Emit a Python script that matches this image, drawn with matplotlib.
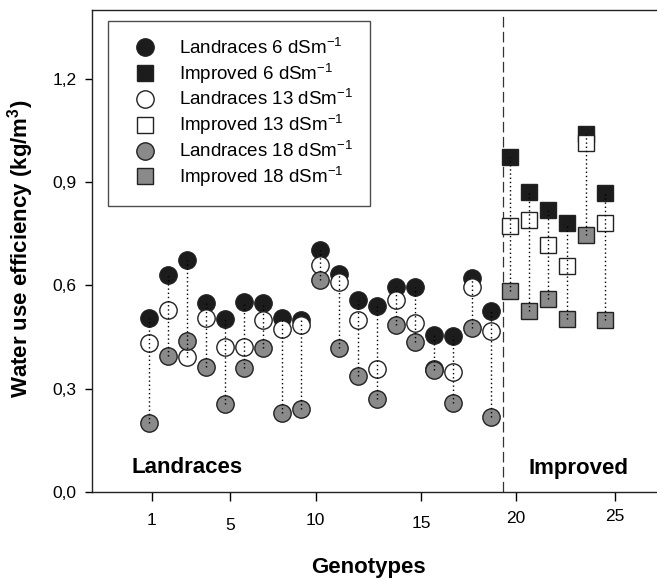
import matplotlib
matplotlib.use('Agg')
import matplotlib.pyplot as plt
import matplotlib.transforms as mtransforms
import numpy as np

plt.rcParams['font.family'] = ['Liberation Sans', 'DejaVu Sans']
plt.rcParams['mathtext.default'] = 'regular'

# Genotype numbers
landrace_geno = list(range(1, 20))
improved_geno = list(range(20, 26))

# Water use efficiency (kg/m3) per salinity level
landraces_6 = [0.505, 0.630, 0.674, 0.549, 0.501, 0.551, 0.548, 0.505, 0.498, 0.703,
               0.633, 0.556, 0.541, 0.596, 0.596, 0.457, 0.454, 0.622, 0.525]
landraces_13 = [0.433, 0.527, 0.391, 0.505, 0.420, 0.420, 0.500, 0.472, 0.486, 0.660,
                0.611, 0.500, 0.357, 0.556, 0.490, 0.358, 0.348, 0.595, 0.467]
landraces_18 = [0.200, 0.394, 0.438, 0.362, 0.256, 0.361, 0.417, 0.229, 0.241, 0.616,
                0.417, 0.338, 0.271, 0.486, 0.435, 0.355, 0.258, 0.476, 0.217]
improved_6 = [0.973, 0.872, 0.819, 0.780, 1.039, 0.868]
improved_13 = [0.773, 0.791, 0.718, 0.655, 1.012, 0.780]
improved_18 = [0.583, 0.525, 0.559, 0.501, 0.747, 0.500]

# Axis ticks as printed on the original figure
xtick_pos = [1.13, 5.25, 9.76, 15.3, 20.3, 25.5]
xtick_labels = ['1', '5', '10', '15', '20', '25']
xtick_top_px = [513, 518, 513, 516, 511, 509]   # staggered label heights (pixels from top)
yticks = [0.0, 0.3, 0.6, 0.9, 1.2]
ytick_labels = ['0,0', '0,3', '0,6', '0,9', '1,2']
group_split = 19.59

fig = plt.figure(figsize=(6.57, 5.79), dpi=100)
ax = fig.add_axes([0.1396, 0.1503, 0.8604, 0.8329])

black = '#1c1c1c'
gray = '#8a8a8a'
edge = '#222222'
circle_ms = 12.5
square_ms = 11
mew = 1.0

# dotted connectors from highest to lowest value of each genotype
lr = np.array([landraces_6, landraces_13, landraces_18])
im = np.array([improved_6, improved_13, improved_18])
ax.vlines(landrace_geno, lr.min(axis=0), lr.max(axis=0), colors='black',
          linestyles=(0, (1, 2)), linewidth=1.0, zorder=6)
ax.vlines(improved_geno, im.min(axis=0), im.max(axis=0), colors='black',
          linestyles=(0, (1, 2)), linewidth=1.0, zorder=6)

def pts(x, y, marker, fc, label, z):
    ms = circle_ms if marker == 'o' else square_ms
    h, = ax.plot(x, y, ls='none', marker=marker, ms=ms, mfc=fc, mec=edge,
                 mew=mew, label=label, zorder=z)
    return h

unit = ' dSm$^{-1}$'
h_l6 = pts(landrace_geno, landraces_6, 'o', black, 'Landraces 6' + unit, 3)
h_i6 = pts(improved_geno, improved_6, 's', black, 'Improved 6' + unit, 3)
h_l13 = pts(landrace_geno, landraces_13, 'o', 'white', 'Landraces 13' + unit, 4)
h_i13 = pts(improved_geno, improved_13, 's', 'white', 'Improved 13' + unit, 4)
h_l18 = pts(landrace_geno, landraces_18, 'o', gray, 'Landraces 18' + unit, 5)
h_i18 = pts(improved_geno, improved_18, 's', gray, 'Improved 18' + unit, 5)

# separator between groups
ax.plot([group_split, group_split], [0, 1.39], color='#333333', lw=0.9,
        dashes=(8.5, 3.5), zorder=2)

ax.text(0.04, 0.056, 'Landraces', fontsize=16, fontweight='bold')
ax.text(20.98, 0.053, 'Improved', fontsize=16, fontweight='bold')

ax.set_xlim(-2.03, 27.72)
ax.set_ylim(0, 1.4)

ax.set_xticks(xtick_pos)
ax.tick_params(axis='x', direction='out', length=6.5, width=1, labelbottom=False)
# x tick labels drawn as text so they can sit at staggered heights
xtrans = mtransforms.blended_transform_factory(ax.transData, fig.transFigure)
for pos, lab, top in zip(xtick_pos, xtick_labels, xtick_top_px):
    ax.text(pos, 1 - top / 579, lab, transform=xtrans, ha='center', va='top',
            fontsize=12.5)

ax.set_yticks(yticks)
ax.set_yticklabels(ytick_labels, fontsize=12.5)
ax.tick_params(axis='y', direction='out', length=5, width=1, pad=6)

ax.spines['right'].set_visible(False)
for s in ['left', 'bottom', 'top']:
    ax.spines[s].set_linewidth(1.0)
    ax.spines[s].set_color('#222222')

ax.set_xlabel('Genotypes', fontsize=16, fontweight='bold')
ax.xaxis.set_label_coords(0.49, -0.135)
ax.set_ylabel('Water use efficiency (kg/m$^{3}$)', fontsize=16, fontweight='bold')
ax.yaxis.set_label_coords(-0.0985, 0.505)

leg = ax.legend(handles=[h_l6, h_i6, h_l13, h_i13, h_l18, h_i18],
                loc='upper left', bbox_to_anchor=(0.0294, 0.977), borderaxespad=0,
                fontsize=13.5, frameon=True, fancybox=False, numpoints=1,
                borderpad=0.9, handlelength=2.1, handletextpad=0.75,
                labelspacing=0.2)
leg.get_frame().set_edgecolor('#222222')
leg.get_frame().set_linewidth(1.0)
leg.set_zorder(10)

fig.savefig('out.png', dpi=100)
plt.close(fig)
